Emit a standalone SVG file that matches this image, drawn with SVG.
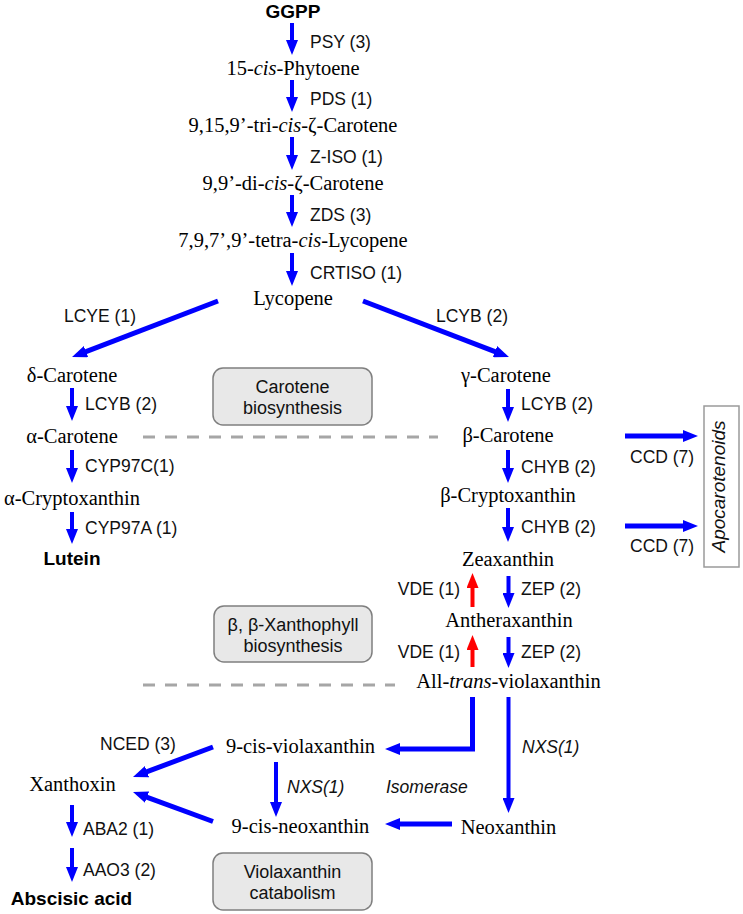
<svg xmlns="http://www.w3.org/2000/svg" width="743" height="914" viewBox="0 0 743 914">
<defs>
<marker id="hb" markerUnits="userSpaceOnUse" viewBox="0 0 15 12" refX="7" refY="6" markerWidth="15" markerHeight="12" orient="auto"><path d="M0,0 L15,6 L0,12 z" fill="#0000ff"/></marker>
<marker id="hr" markerUnits="userSpaceOnUse" viewBox="0 0 15 12" refX="7" refY="6" markerWidth="15" markerHeight="12" orient="auto"><path d="M0,0 L15,6 L0,12 z" fill="#ff0000"/></marker>
<style>
.m{font-family:"Liberation Serif","Times New Roman",serif;font-size:20.5px;fill:#000;text-anchor:middle}
.e{font-family:"Liberation Sans",Arial,sans-serif;font-size:17.5px;fill:#111}
.ei{font-family:"Liberation Sans",Arial,sans-serif;font-size:17.5px;font-style:italic;fill:#111}
.b{font-family:"Liberation Sans",Arial,sans-serif;font-size:19px;font-weight:bold;fill:#000;text-anchor:middle}
.bx{fill:#e8e8e8;stroke:#7f7f7f;stroke-width:1.5}
.bt{font-family:"Liberation Sans",Arial,sans-serif;font-size:18px;fill:#111;text-anchor:middle}
.a{stroke:#0000ff;stroke-width:4;fill:none;marker-end:url(#hb)}
.ad{stroke:#0000ff;stroke-width:5;fill:none;marker-end:url(#hb)}
.r{stroke:#ff0000;stroke-width:4;fill:none;marker-end:url(#hr)}
.d{stroke:#a6a6a6;stroke-width:3;stroke-dasharray:12 10;fill:none}
i{font-style:italic}
</style>
</defs>
<g id="connectors">
<line class="a" x1="292" y1="23" x2="292" y2="47"/>
<line class="a" x1="292" y1="80" x2="292" y2="104"/>
<line class="a" x1="292" y1="137" x2="292" y2="162"/>
<line class="a" x1="292" y1="195" x2="292" y2="219"/>
<line class="a" x1="292" y1="253" x2="292" y2="278"/>
<line class="ad" x1="218" y1="301" x2="79.5" y2="354.1"/>
<line class="ad" x1="363" y1="301" x2="501.5" y2="354.1"/>
<line class="a" x1="72" y1="388" x2="72" y2="413"/>
<line class="a" x1="72" y1="450" x2="72" y2="475"/>
<line class="a" x1="72" y1="512" x2="72" y2="536"/>
<line class="a" x1="508" y1="389" x2="508" y2="414"/>
<line class="a" x1="508" y1="450" x2="508" y2="475"/>
<line class="a" x1="508" y1="508" x2="508" y2="534"/>
<line class="a" x1="508.5" y1="576" x2="508.5" y2="600"/>
<line class="a" x1="508.5" y1="637" x2="508.5" y2="660"/>
<line class="r" x1="472.5" y1="607" x2="472.5" y2="581"/>
<line class="r" x1="472.5" y1="667" x2="472.5" y2="643"/>
<line class="ad" x1="625" y1="436" x2="690" y2="436"/>
<line class="ad" x1="625" y1="526" x2="690" y2="526"/>
<path class="ad" d="M472.5,697 V749 H393"/>
<line class="a" x1="508.5" y1="697" x2="508.5" y2="805"/>
<line class="ad" x1="452" y1="824" x2="393" y2="824"/>
<line class="a" x1="276" y1="762" x2="276" y2="809"/>
<line class="ad" x1="213" y1="747" x2="140.5" y2="774.1"/>
<line class="ad" x1="213" y1="821.5" x2="140.5" y2="794.8"/>
<line class="a" x1="72" y1="805" x2="72" y2="829"/>
<line class="a" x1="72" y1="848" x2="72" y2="874"/>
<line class="d" x1="143" y1="437" x2="438" y2="437"/>
<line class="d" x1="143" y1="685" x2="395" y2="685"/>
</g>
<g id="labels">
<text class="e" x="310" y="48">PSY (3)</text>
<text class="e" x="310" y="105">PDS (1)</text>
<text class="e" x="310" y="163">Z-ISO (1)</text>
<text class="e" x="310" y="221">ZDS (3)</text>
<text class="e" x="310" y="279">CRTISO (1)</text>
<text class="e" x="64" y="322">LCYE (1)</text>
<text class="e" x="436" y="322">LCYB (2)</text>
<text class="e" x="85" y="410">LCYB (2)</text>
<text class="e" x="85" y="472">CYP97C(1)</text>
<text class="e" x="85" y="534">CYP97A (1)</text>
<text class="e" x="521" y="410">LCYB (2)</text>
<text class="e" x="521" y="473">CHYB (2)</text>
<text class="e" x="521" y="533">CHYB (2)</text>
<text class="e" x="521" y="595">ZEP (2)</text>
<text class="e" x="521" y="658">ZEP (2)</text>
<text class="e" x="460" y="595" text-anchor="end">VDE (1)</text>
<text class="e" x="460" y="658" text-anchor="end">VDE (1)</text>
<text class="e" x="630" y="463">CCD (7)</text>
<text class="e" x="630" y="552">CCD (7)</text>
<text class="ei" x="522" y="753">NXS(1)</text>
<text class="ei" x="386" y="793">Isomerase</text>
<text class="ei" x="287" y="793">NXS(1)</text>
<text class="e" x="100" y="750">NCED (3)</text>
<text class="e" x="83" y="835">ABA2 (1)</text>
<text class="e" x="83" y="876">AAO3 (2)</text>
</g>
<g id="n-ggpp"><text class="b" x="293" y="18">GGPP</text></g>
<g id="n-phytoene"><text class="m" x="293" y="75">15-<tspan font-style="italic">cis</tspan>-Phytoene</text></g>
<g id="n-tricis"><text class="m" x="293" y="132">9,15,9’-tri-<tspan font-style="italic">cis</tspan>-ζ-Carotene</text></g>
<g id="n-dicis"><text class="m" x="293" y="190">9,9’-di-<tspan font-style="italic">cis</tspan>-ζ-Carotene</text></g>
<g id="n-tetracis"><text class="m" x="293" y="247">7,9,7’,9’-tetra-<tspan font-style="italic">cis</tspan>-Lycopene</text></g>
<g id="n-lycopene"><text class="m" x="293" y="305">Lycopene</text></g>
<g id="n-delta"><text class="m" x="72" y="382">δ-Carotene</text></g>
<g id="n-alpha"><text class="m" x="72" y="443">α-Carotene</text></g>
<g id="n-acrypto"><text class="m" x="72" y="505">α-Cryptoxanthin</text></g>
<g id="n-lutein"><text class="b" x="72" y="565">Lutein</text></g>
<g id="n-gamma"><text class="m" x="506" y="382">γ-Carotene</text></g>
<g id="n-beta"><text class="m" x="508" y="442">β-Carotene</text></g>
<g id="n-bcrypto"><text class="m" x="508" y="502">β-Cryptoxanthin</text></g>
<g id="n-zea"><text class="m" x="508" y="566">Zeaxanthin</text></g>
<g id="n-anthera"><text class="m" x="509" y="627">Antheraxanthin</text></g>
<g id="n-viola"><text class="m" x="508.5" y="688">All-<tspan font-style="italic">trans</tspan>-violaxanthin</text></g>
<g id="n-9cisviola"><text class="m" x="300.5" y="753">9-cis-violaxanthin</text></g>
<g id="n-9cisneo"><text class="m" x="300.5" y="833">9-cis-neoxanthin</text></g>
<g id="n-neo"><text class="m" x="508.5" y="834">Neoxanthin</text></g>
<g id="n-xanthoxin"><text class="m" x="72.5" y="791">Xanthoxin</text></g>
<g id="n-aba"><text class="b" x="71.5" y="905">Abscisic acid</text></g>
<g id="n-apo">
<rect x="704" y="406" width="35" height="161" fill="#fff" stroke="#9a9a9a" stroke-width="1.5"/>
<text transform="translate(725,486.5) rotate(-90)" text-anchor="middle" font-family="Liberation Sans, Arial, sans-serif" font-size="19" font-style="italic" fill="#111">Apocarotenoids</text>
</g>
<g id="box-carotene">
<rect class="bx" x="213" y="368" width="159" height="57" rx="10"/>
<text class="bt" x="292.5" y="393">Carotene</text>
<text class="bt" x="292.5" y="414">biosynthesis</text>
</g>
<g id="box-xantho">
<rect class="bx" x="214" y="606" width="158" height="56" rx="10"/>
<text class="bt" x="293" y="631">β, β-Xanthophyll</text>
<text class="bt" x="293" y="652">biosynthesis</text>
</g>
<g id="box-viola">
<rect class="bx" x="213" y="853" width="159" height="57" rx="10"/>
<text class="bt" x="292.5" y="878">Violaxanthin</text>
<text class="bt" x="292.5" y="899">catabolism</text>
</g>
</svg>
